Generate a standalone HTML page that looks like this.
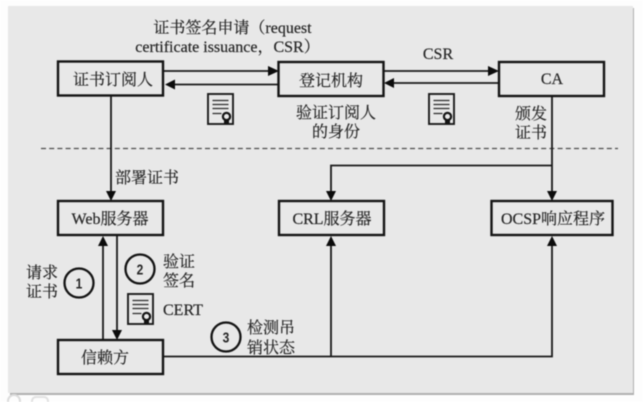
<!DOCTYPE html>
<html>
<head>
<meta charset="utf-8">
<style>
html,body{margin:0;padding:0;background:#fff;width:643px;height:402px;overflow:hidden}
svg{display:block;filter:blur(0.5px)}
text{font-family:"Liberation Serif","Noto Serif CJK SC",serif;fill:#262626;stroke:#262626;stroke-width:0.2px;font-size:16px}
.c{text-anchor:middle}
.n{font-family:"Liberation Sans",sans-serif;font-weight:bold;font-size:15px;text-anchor:middle;stroke:none}
.b{fill:#e8e8e8;stroke:#141414;stroke-width:2.4}
.l{fill:none;stroke:#1a1a1a;stroke-width:1.8}
.a{fill:#0c0c0c}
.k{fill:#e8e8e8;stroke:#1c1c1c;stroke-width:1.9}
.t{stroke:#2a2a2a;stroke-width:1.3;fill:none}
.o{fill:#e8e8e8;stroke:#141414;stroke-width:2.3}
</style>
</head>
<body>
<svg width="643" height="402" viewBox="0 0 643 402" xmlns="http://www.w3.org/2000/svg">
<defs>
<g id="cert">
<rect class="k" x="0.5" y="0.5" width="25" height="30"/>
<path class="t" d="M5 7H21M5 11H21M5 15H21M5 20H14"/>
<circle cx="19" cy="23" r="3.6" fill="#e8e8e8" stroke="#141414" stroke-width="2.2"/>
<path d="M16.500 26h5v4.500h-5z" fill="#141414"/>
</g>
</defs>
<rect x="0" y="0" width="643" height="402" fill="#fdfdfd"/>
<rect x="10" y="8" width="624" height="387" fill="#b0b0b0"/>
<rect x="8" y="6" width="625" height="387" fill="#e8e8e8"/>

<!-- faint watermark bottom-left -->
<circle cx="14" cy="401" r="6" fill="none" stroke="#dcdcdc" stroke-width="2"/>
<rect x="32" y="397" width="16" height="10" rx="4" fill="none" stroke="#e2e2e2" stroke-width="2"/>

<!-- dashed separator -->
<line x1="41" y1="148.500" x2="618" y2="148.500" stroke="#4c4c4c" stroke-width="1.3" stroke-dasharray="5 3.2"/>

<!-- connectors -->
<path class="l" d="M163 71H270M278 84.500H172"/>
<path class="a" d="M268 66L279 71L268 76Z M165 84.500L175 79.500V89.500Z"/>
<path class="l" d="M383 71H490M499 83H392"/>
<path class="a" d="M488 66L499 71L488 76Z M384 83L394 78V88Z"/>

<path class="l" d="M111 95V192"/>
<path class="a" d="M106 191H116L111 201Z"/>

<path class="l" d="M552 96V192M552 165.500H331V192"/>
<path class="a" d="M547 191H557L552 201Z M326 191H336L331 201Z"/>

<path class="l" d="M103 340V245"/>
<path class="a" d="M98 246H108L103 236Z"/>
<path class="l" d="M117 236V331"/>
<path class="a" d="M112 330H122L117 340Z"/>

<path class="l" d="M163 356.500H552V245M331 356.500V245"/>
<path class="a" d="M326 246H336L331 236Z M547 246H557L552 236Z"/>

<!-- boxes -->
<rect class="b" x="58" y="61.500" width="105" height="34"/>
<rect class="b" x="278.500" y="62" width="105" height="34"/>
<rect class="b" x="499" y="62" width="105" height="34"/>
<rect class="b" x="58" y="201" width="105" height="34"/>
<rect class="b" x="279" y="201" width="105" height="34"/>
<rect class="b" x="491.500" y="201" width="121" height="34"/>
<rect class="b" x="58" y="340" width="105" height="34"/>

<!-- box labels -->
<text class="c" x="113" y="85">证书订阅人</text>
<text class="c" x="331" y="86">登记机构</text>
<text class="c" x="552" y="84">CA</text>
<text class="c" x="110" y="224">Web服务器</text>
<text class="c" x="332" y="224">CRL服务器</text>
<text class="c" x="553" y="224">OCSP响应程序</text>
<text class="c" x="105" y="363">信赖方</text>

<!-- connector labels -->
<text class="c" x="232.500" y="33">证书签名申请（request</text>
<text class="c" x="227.500" y="52">certificate issuance，CSR）</text>
<text class="c" x="438" y="59">CSR</text>
<text class="c" x="336" y="118">验证订阅人</text>
<text class="c" x="336" y="137">的身份</text>
<text class="c" x="531" y="119">颁发</text>
<text class="c" x="531" y="138">证书</text>
<text class="c" x="147" y="183">部署证书</text>
<text class="c" x="42" y="278">请求</text>
<text class="c" x="42" y="297">证书</text>
<text class="c" x="179" y="267">验证</text>
<text class="c" x="179" y="286">签名</text>
<text x="163" y="315">CERT</text>
<text class="c" x="271" y="333">检测吊</text>
<text class="c" x="271" y="353">销状态</text>

<!-- circled numbers -->
<circle class="o" cx="79" cy="283" r="14.500"/>
<text class="n" x="79" y="288.500" transform="translate(79 0) scale(0.8 1) translate(-79 0)">1</text>
<circle class="o" cx="140" cy="269" r="14.500"/>
<text class="n" x="140" y="274.500" transform="translate(140 0) scale(0.8 1) translate(-140 0)">2</text>
<circle class="o" cx="226" cy="337" r="14.500"/>
<text class="n" x="226" y="342.500" transform="translate(226 0) scale(0.8 1) translate(-226 0)">3</text>

<!-- certificate icons -->
<use href="#cert" x="207.500" y="93.500"/>
<use href="#cert" x="428.500" y="93.500"/>
<use href="#cert" x="127.500" y="293.500"/>
</svg>
</body>
</html>
